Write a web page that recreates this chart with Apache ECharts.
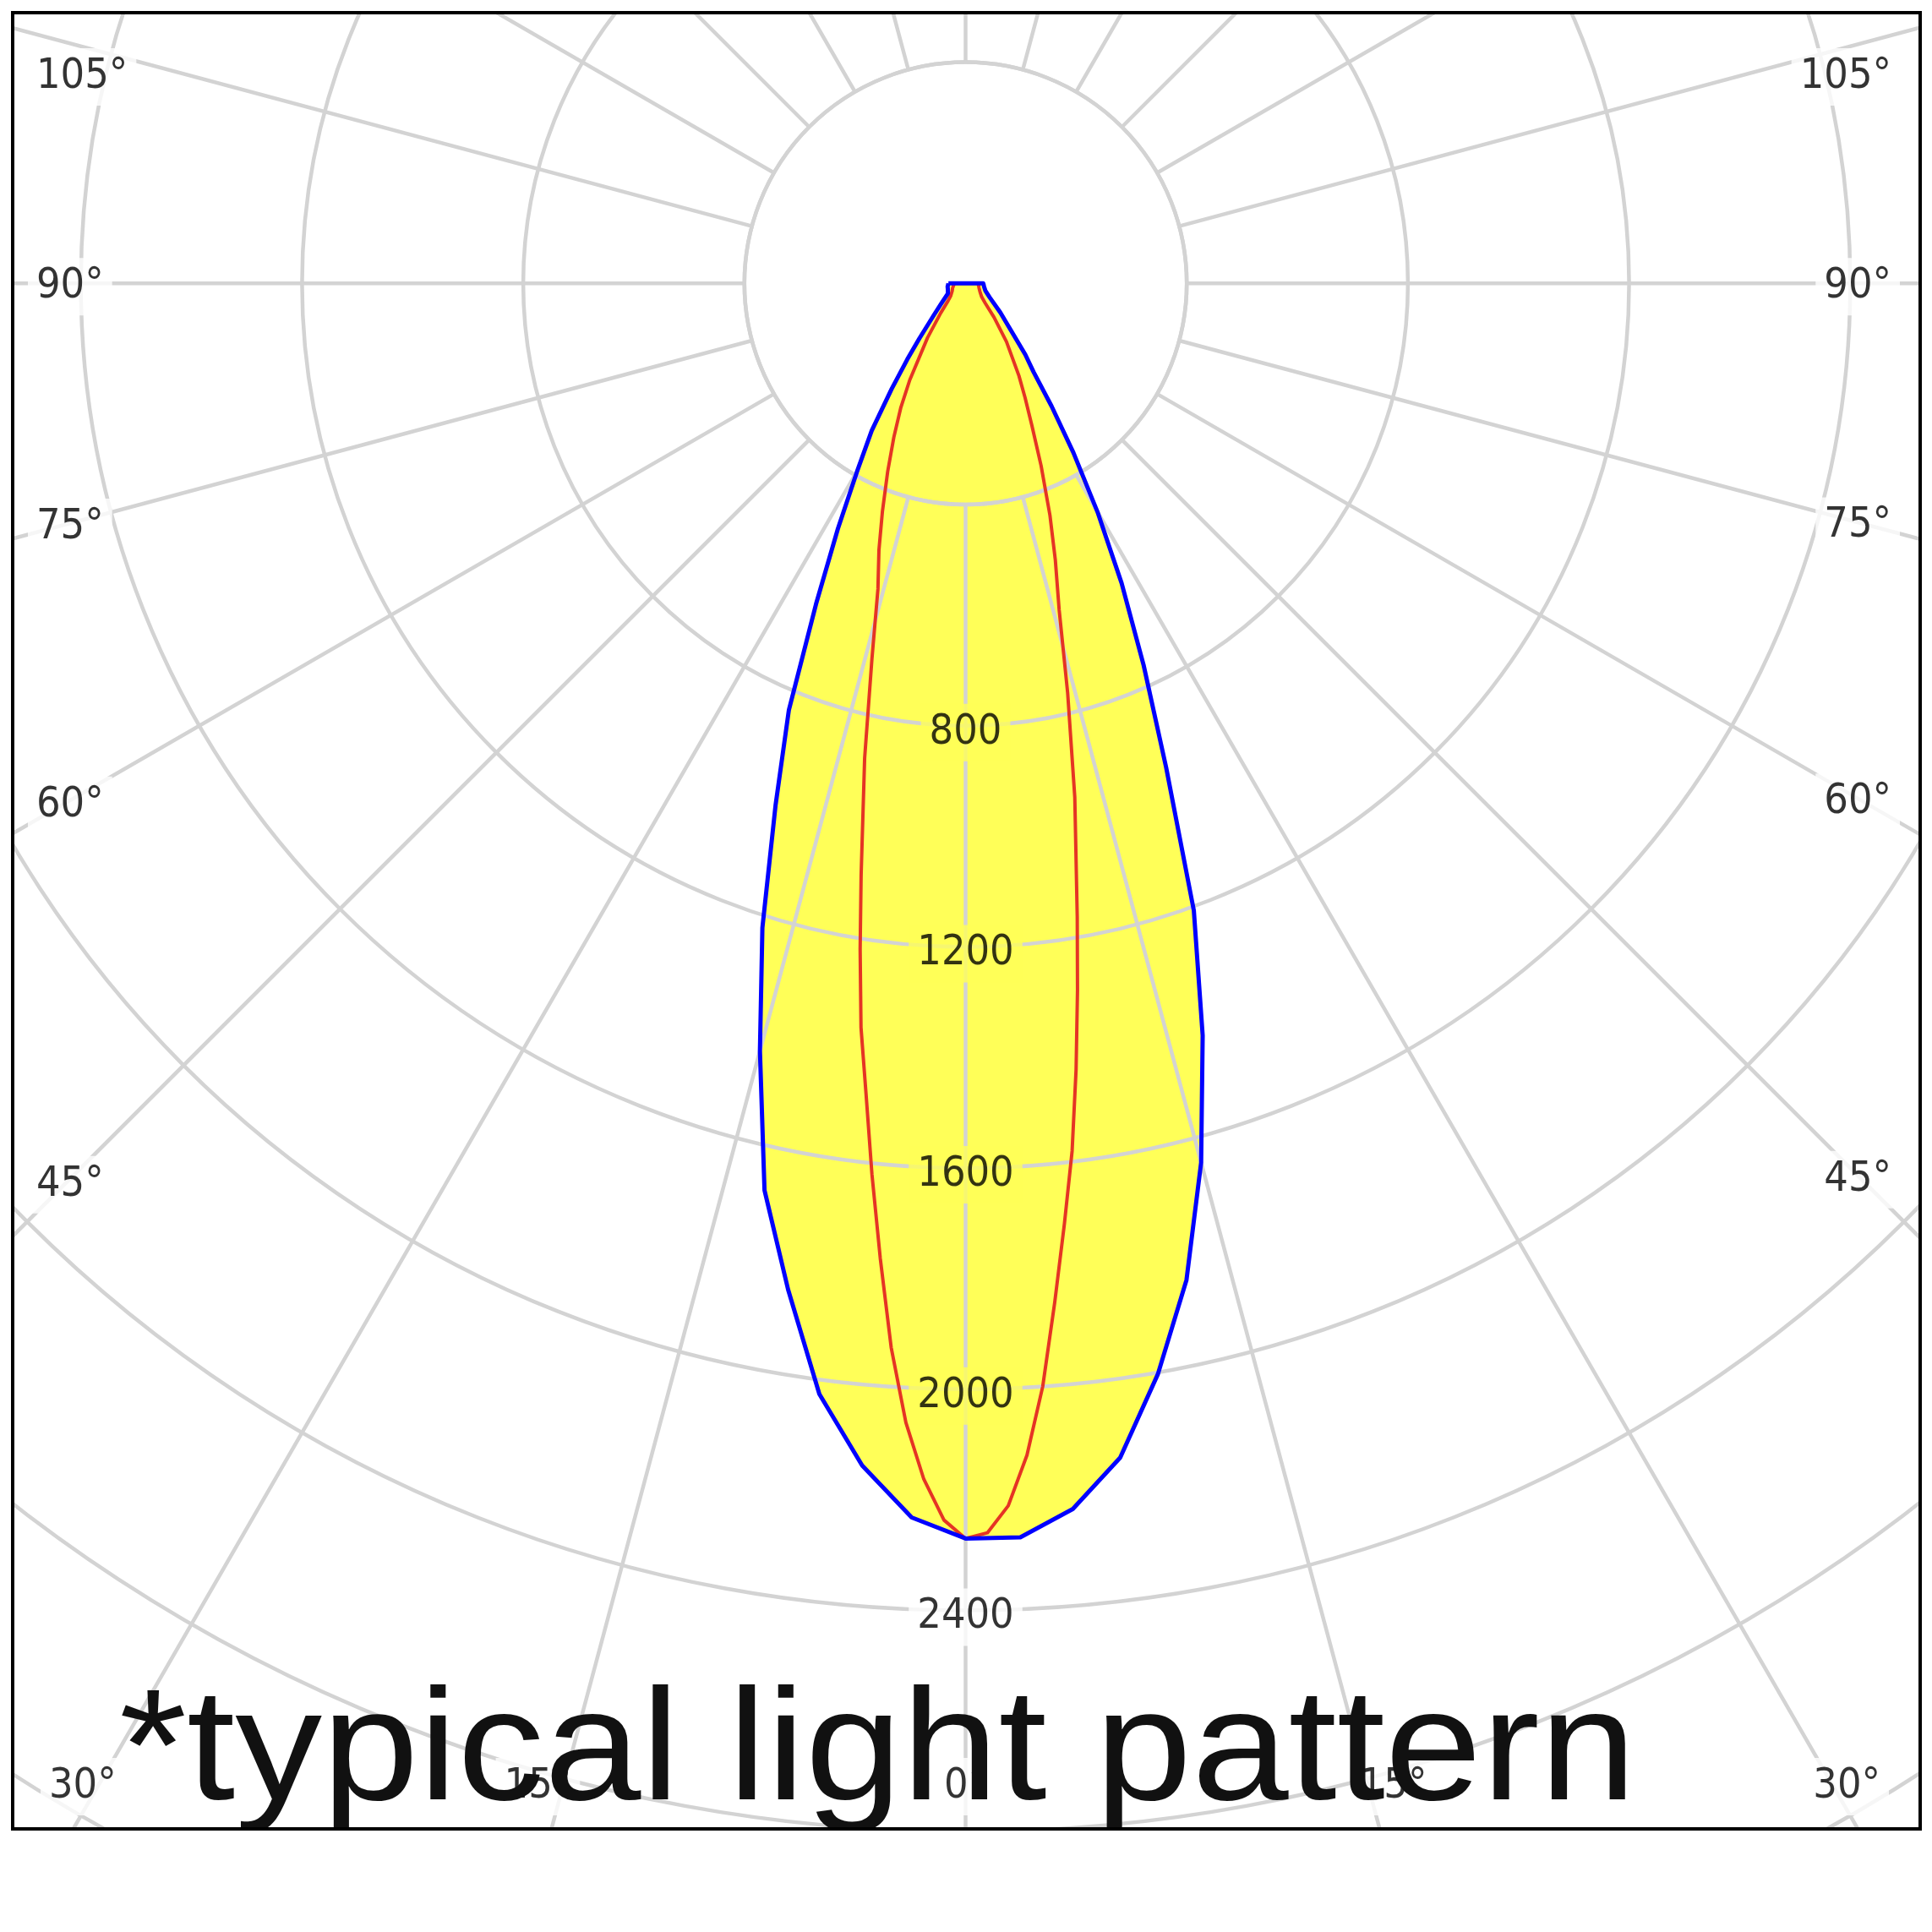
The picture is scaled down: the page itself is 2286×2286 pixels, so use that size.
<!DOCTYPE html>
<html><head><meta charset="utf-8">
<script src="https://cdn.jsdelivr.net/npm/echarts@6/dist/echarts.min.js"></script>
<style>html,body{margin:0;padding:0;background:#fff}#c{width:2286px;height:2286px}</style>
</head><body><div id="c"></div>
<script>
// ---- data (luminous intensity, cd) ----
const blueAngles = [0,2.5,5,7.5,10,12.5,15,17.5,20,22.5,25,27.5,30,32.5,35,37.5,40,45,50,60,70,80,90];
const blueLeft   = [2270,2234,2146,2026,1848,1680,1437,1222,1005,835,640,500,392,316,233,173,130,81,58,37,34,33,31];
const blueRight  = [2272,2270,2225,2142,2003,1846,1646,1426,1207,948,762,611,477,363,271,202,168,110,82,50,38,34,32];

const redAngles = [0,1,2,3,4,5,6,7,8,9,10,12,14,16,18,20,22.5,25,27.5,30,35,40,45,50,60,70,80,90];
const redLeft   = [2270,2237,2164,2063,1929,1770,1620,1477,1359,1219,1088,878,700,575,507,440,368,307,254,202,120,70,45,35,28,25,22,20];
const redRight  = [2270,2260,2212,2122,2000,1850,1710,1581,1436,1294,1163,950,763,614,525,446,357,284,233,193,129,80,50,38,30,26,24,22];

const ringLabels = [800,1200,1600,2000,2400];
const angleTicks = [0,15,30,45,60,75,90,105];
const titleText = '*typical light pattern';

// ---- layout ----
const L = 15, T = 15, R = 2272, B = 2164;
const CX = 1142.5, CY = 335.3;
const PX_PER_400 = 261.7;
const RMIN = 400, RMAX = 3600, RSTEP = 400;
const ppu = PX_PER_400 / 400;
const YELLOW = '#FFFF58';
const GRID = '#D3D3D3';
const GRID_W = 4.5;
const LABEL_FONT = '"DejaVu Sans Condensed", "Liberation Sans", sans-serif';
const LABEL_SIZE = 50;

function curve(angles, left, right) {
  const a = [];
  for (let i = angles.length - 1; i >= 0; i--) a.push([left[i], angles[i]]);
  for (let i = 1; i < angles.length; i++) a.push([right[i], -angles[i]]);
  a.push(a[0].slice());
  return a;
}
const blueData = curve(blueAngles, blueLeft, blueRight);
const redData = curve(redAngles, redLeft, redRight);

const mctx = document.createElement('canvas').getContext('2d');
mctx.font = LABEL_SIZE + 'px ' + LABEL_FONT;
const tw = s => mctx.measureText(s).width;

function toPolar(x, y) {
  return [Math.hypot(x - CX, y - CY) / ppu, Math.atan2(CX - x, y - CY) * 180 / Math.PI];
}

const angleLabelData = [];
angleTicks.forEach(g => {
  const sides = g === 0 ? [0] : [-1, 1];
  sides.forEach(s => {
    const rad = g * Math.PI / 180;
    const dx = s * Math.sin(rad), dy = Math.cos(rad);
    const text = g + '°';
    const w = tw(text);
    let x, y, align = 'center';
    const bx = dy > 0 ? CX + dx * (B - CY) / dy : null;
    if (bx !== null && bx >= L && bx <= R) {
      y = B - 54;
      x = CX + dx * (B + 60 - CY) / dy;
      if (x - w / 2 < L + 43) { x = L + 33; align = 'left'; }
      else if (x + w / 2 > R - 47) { x = R - 37; align = 'right'; }
    } else {
      const xs = s < 0 ? L + 65 : R - 73;
      y = CY + Math.abs(xs - CX) * dy / Math.abs(dx);
      if (y < T + 72) y = T + 72;
      x = s < 0 ? L + 18 : R - 24;
      align = s < 0 ? 'left' : 'right';
    }
    angleLabelData.push({ value: toPolar(x, y), name: text, label: { align: align, offset: [0, 4] } });
  });
});

const ringLabelData = ringLabels.map(v => ({
  value: [v, 0], name: String(v),
  label: { backgroundColor: v < blueLeft[0] ? YELLOW : '#ffffff', offset: [0, 8] }
}));

const labelStyle = {
  show: true, position: 'inside', formatter: '{b}',
  fontSize: LABEL_SIZE, fontFamily: LABEL_FONT, color: '#000',
  backgroundColor: '#ffffff', padding: [9, 10], lineHeight: 50, verticalAlign: 'middle'
};

function polyFill(data, color) {
  return (params, api) => ({
    type: 'polygon',
    shape: { points: data.map(p => api.coord(p)) },
    style: { fill: color }
  });
}
function polyLine(data, color, width) {
  return (params, api) => ({
    type: 'polyline',
    shape: { points: data.map(p => api.coord(p)) },
    style: { fill: null, stroke: color, lineWidth: width, lineJoin: 'round' }
  });
}

const chart = echarts.init(document.getElementById('c'), null, { renderer: 'canvas' });
chart.setOption({
  animation: false,
  backgroundColor: '#ffffff',
  polar: { center: [CX, CY], radius: [RMIN * ppu, RMAX * ppu] },
  angleAxis: {
    type: 'value', min: -180, max: 180, interval: 15, startAngle: 90, clockwise: true, z: 2,
    axisLine: { show: true, lineStyle: { color: GRID, width: GRID_W } },
    axisTick: { show: false }, axisLabel: { show: false },
    splitLine: { show: true, lineStyle: { color: GRID, width: GRID_W } }
  },
  radiusAxis: {
    type: 'value', min: RMIN, max: RMAX, interval: RSTEP, z: 2,
    axisLine: { show: false }, axisTick: { show: false }, axisLabel: { show: false },
    splitLine: { show: true, lineStyle: { color: GRID, width: GRID_W } }
  },
  series: [
    { type: 'custom', coordinateSystem: 'polar', z: 1, silent: true, data: [[0, 0]],
      renderItem: polyFill(blueData, YELLOW) },
    { type: 'custom', coordinateSystem: 'polar', z: 3, silent: true, data: [[0, 0]],
      renderItem: polyLine(redData, '#E53424', 4) },
    { type: 'custom', coordinateSystem: 'polar', z: 3, silent: true, data: [[0, 0]],
      renderItem: polyLine(blueData, '#0000FF', 5) },
    {
      type: 'scatter', coordinateSystem: 'polar', data: ringLabelData, symbol: 'circle', symbolSize: 1,
      itemStyle: { color: 'rgba(0,0,0,0)' }, clip: false, z: 4, silent: true, label: labelStyle
    },
    {
      type: 'scatter', coordinateSystem: 'polar', data: angleLabelData, symbol: 'circle', symbolSize: 1,
      itemStyle: { color: 'rgba(0,0,0,0)' }, clip: false, z: 4, silent: true, label: labelStyle
    }
  ],
  graphic: [
    { type: 'text', x: 141, y: 2077, scaleX: 1.1, z: 5, silent: true,
      style: { text: titleText, fontSize: 187, fontFamily: '"Liberation Sans", Arial, sans-serif',
               fill: '#111111', align: 'left', verticalAlign: 'middle' } },
    { type: 'rect', z: 10, silent: true, shape: { x: 0, y: 0, width: 2286, height: T }, style: { fill: '#fff' } },
    { type: 'rect', z: 10, silent: true, shape: { x: 0, y: B, width: 2286, height: 2286 - B }, style: { fill: '#fff' } },
    { type: 'rect', z: 10, silent: true, shape: { x: 0, y: 0, width: L, height: 2286 }, style: { fill: '#fff' } },
    { type: 'rect', z: 10, silent: true, shape: { x: R, y: 0, width: 2286 - R, height: 2286 }, style: { fill: '#fff' } },
    { type: 'rect', z: 11, silent: true, shape: { x: L, y: T, width: R - L, height: B - T },
      style: { fill: null, stroke: '#000', lineWidth: 4 } }
  ]
});
</script>
</body></html>
